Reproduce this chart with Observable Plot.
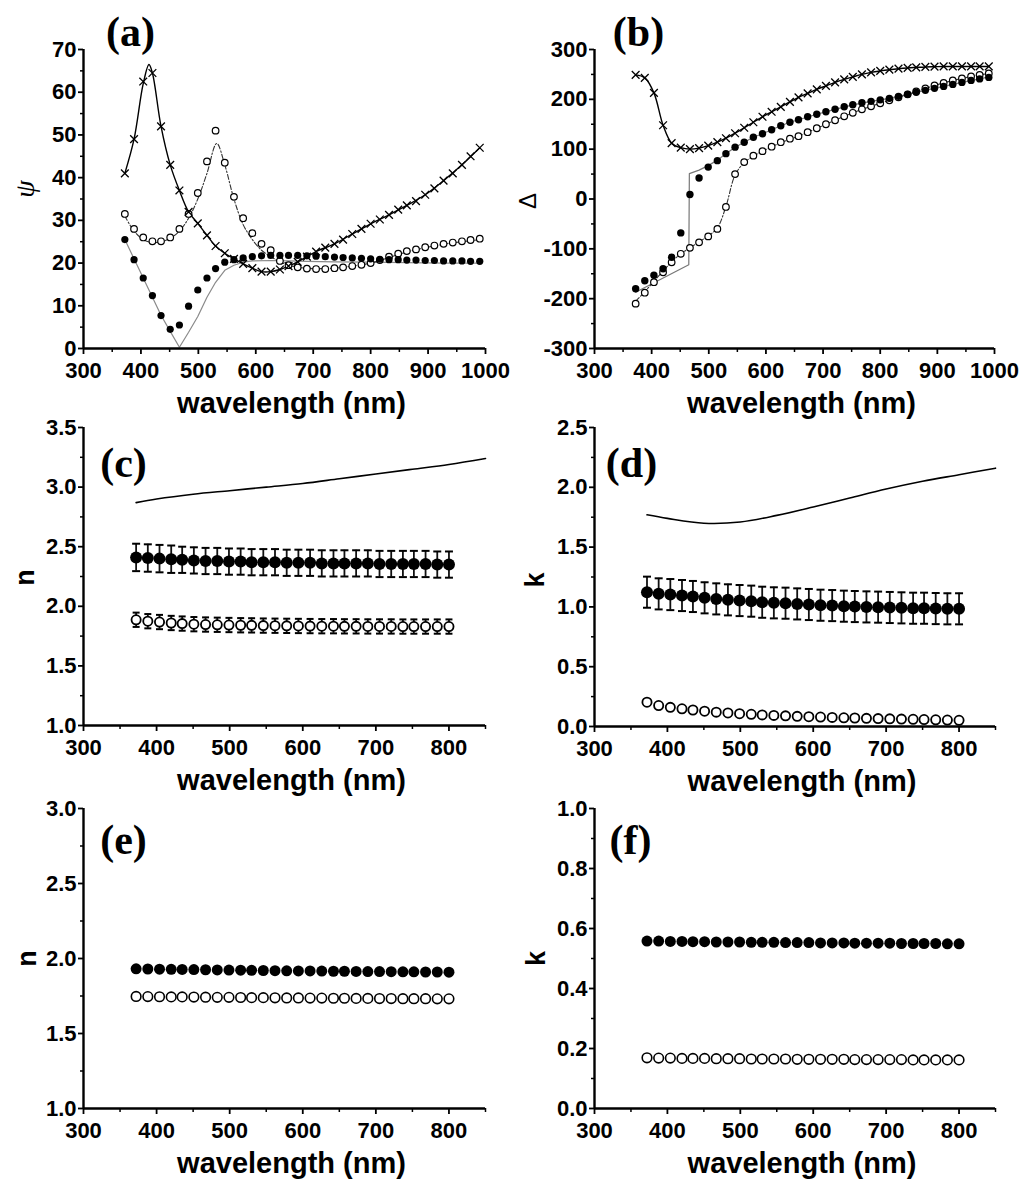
<!DOCTYPE html>
<html><head><meta charset="utf-8">
<script src="https://cdn.jsdelivr.net/npm/d3@7"></script>
<script src="https://cdn.jsdelivr.net/npm/@observablehq/plot@0.6"></script>
<style>
body{margin:0;background:#fff}
#fig{position:relative;width:1028px;height:1186px;background:#fff;overflow:hidden}
</style></head><body><div id="fig"></div>
<script>
// ---------- DATA ----------
// measurement wavelengths (nm)
const wl = [372, 388, 404, 420, 435, 451, 467, 483, 499, 515, 530, 546, 562, 578, 594, 610, 626, 642, 657, 673, 689, 705, 721, 737, 752, 768, 784, 800, 816, 832, 848, 863, 879, 895, 911, 927, 943, 959, 974, 990];

// (a) psi
const psiCross = [41, 49, 62.5, 64.5, 52, 43, 37, 32, 29.3, 26.5, 24, 22.3, 21, 19.8, 18.8, 18, 18, 18.5, 19.3, 20.3, 21.5, 22.7, 23.6, 24.5, 25.5, 26.8, 28, 29.2, 30.2, 31.3, 32.5, 33.5, 34.5, 36, 37.5, 39.3, 41, 43, 45, 47];
const psiOpen = [31.5, 28, 26, 25.1, 25.1, 26, 28, 31.5, 36.4, 43.8, 51, 43.5, 35.5, 30.5, 27, 24.5, 23, 20.5, 19.5, 19, 18.7, 18.6, 18.6, 18.8, 19, 19.3, 19.6, 20, 20.7, 21.5, 22.2, 22.8, 23.2, 23.7, 24.1, 24.5, 24.8, 25.1, 25.4, 25.7];
const psiFilled = [25.5, 20.8, 16.5, 12.4, 7.7, 4.5, 5.5, 9.9, 13.7, 16.5, 18.7, 20.2, 20.8, 21.2, 21.5, 21.7, 21.8, 21.8, 21.8, 21.8, 21.7, 21.6, 21.5, 21.4, 21.3, 21.2, 21.1, 21, 20.9, 20.8, 20.8, 20.7, 20.7, 20.6, 20.6, 20.5, 20.5, 20.5, 20.4, 20.4];
// (a) fitted curves
const fitAcrossWl = [372, 388, 404, 414, 420, 435, 451, 467, 483, 499, 515, 530, 546, 562, 578, 594, 610, 626, 642, 657, 673, 689, 705, 737, 768, 800, 832, 863, 895, 927, 959, 990];
const fitAcross = [41, 49, 62, 66.5, 64.5, 52, 43, 37, 32, 29.3, 26.5, 24, 22.3, 21, 19.8, 18.8, 18, 18, 18.5, 19.3, 20.3, 21.5, 22.7, 24.5, 26.8, 29.2, 31.3, 33.5, 36, 39.3, 43, 47];
const fitAopenWl = [372, 388, 404, 420, 435, 451, 467, 483, 499, 515, 532, 546, 562, 578, 594, 610, 626, 642, 657, 673, 689, 705, 737, 768, 800, 832, 863, 895, 927, 959, 990];
const fitAopen = [31, 27.5, 25.5, 24.8, 25, 25.8, 27.5, 30.5, 35, 41, 48, 43, 35, 29, 25.5, 23, 21.5, 20.3, 19.5, 19, 18.8, 18.7, 18.8, 19.3, 20, 21.3, 22.6, 23.6, 24.4, 25, 25.5];
const fitAfilledWl = [372, 388, 404, 420, 435, 451, 467, 483, 499, 515, 530, 546, 562, 578, 594, 626, 657, 689, 737, 800, 863, 927, 990];
const fitAfilled = [25.5, 21, 16.5, 12, 7.8, 4, 0.3, 3.8, 7.5, 12, 15.5, 18.3, 19.5, 20.2, 20.5, 20.6, 20.5, 20.4, 20.3, 20.2, 20.1, 20, 20];

// (b) Delta
const deltaCross = [249, 243, 213, 148, 112, 103, 100, 102, 107, 114, 122, 132, 143, 154, 165, 175, 185, 195, 204, 212, 220, 227, 234, 240, 245, 250, 254, 257, 259.5, 261.5, 263, 264, 265, 265.5, 266, 266, 266, 266, 266, 266];
const deltaFilled = [-180, -164, -153, -140, -117, -68, 9, 42, 64, 77, 91, 104, 114, 124, 131, 139, 147, 154, 159, 165, 170, 175, 180, 185, 189, 193, 196, 199, 202, 206, 210, 214, 218, 222, 226, 230, 234, 238, 241, 244];
const deltaOpen = [-210, -188, -167, -147, -127, -110, -98, -87, -75, -60, -16, 50, 74, 87, 96, 105, 114, 121, 126, 134, 142, 150, 158, 166, 173, 180, 186, 192, 198, 204, 210, 216, 222, 228, 233, 238, 242, 246, 249, 252];
// (b) fitted curves
const fitBfilledWl = [372, 465, 466, 483, 499, 515, 530, 546, 562, 578, 594, 610, 626, 642, 657, 689, 721, 752, 784, 816, 848, 879, 911, 943, 974, 990];
const fitBfilled = [-187, -132, 51, 58, 67, 78, 91, 104, 114, 124, 131, 139, 147, 154, 159, 170, 180, 189, 196, 202, 210, 218, 226, 234, 241, 245];
const fitBopenWl = [372, 388, 404, 420, 435, 451, 467, 483, 499, 515, 530, 546, 562, 578, 594, 626, 657, 689, 721, 752, 784, 816, 848, 879, 911, 943, 974, 990];
const fitBopen = [-205, -186, -165, -145, -126, -110, -98, -86, -74, -58, -15, 48, 73, 86, 96, 113, 126, 142, 158, 173, 186, 198, 210, 222, 233, 242, 249, 252];

// (c) n with error bars, (d) k with error bars (first 28 wavelengths)
const cFilled = [2.41, 2.405, 2.40, 2.395, 2.39, 2.385, 2.38, 2.38, 2.375, 2.375, 2.37, 2.37, 2.37, 2.365, 2.365, 2.365, 2.36, 2.36, 2.36, 2.36, 2.36, 2.355, 2.355, 2.355, 2.355, 2.355, 2.35, 2.35];
const cFilledErr = [0.115, 0.115, 0.115, 0.115, 0.11, 0.11, 0.11, 0.11, 0.11, 0.11, 0.11, 0.11, 0.11, 0.11, 0.11, 0.11, 0.11, 0.11, 0.11, 0.11, 0.11, 0.11, 0.11, 0.11, 0.11, 0.11, 0.11, 0.11];
const cOpen = [1.887, 1.875, 1.868, 1.86, 1.855, 1.85, 1.847, 1.845, 1.843, 1.841, 1.84, 1.838, 1.837, 1.836, 1.835, 1.834, 1.833, 1.833, 1.832, 1.832, 1.831, 1.831, 1.831, 1.83, 1.83, 1.83, 1.83, 1.83];
const cOpenErr = [0.06, 0.06, 0.06, 0.06, 0.06, 0.06, 0.06, 0.06, 0.06, 0.06, 0.06, 0.06, 0.06, 0.06, 0.06, 0.06, 0.06, 0.06, 0.06, 0.06, 0.06, 0.06, 0.06, 0.06, 0.06, 0.06, 0.06, 0.06];
const lineCWl = [372, 400, 450, 500, 550, 600, 650, 700, 750, 800, 850];
const lineC = [2.87, 2.90, 2.94, 2.97, 3.00, 3.03, 3.07, 3.11, 3.15, 3.19, 3.24];

const dFilled = [1.123, 1.109, 1.103, 1.095, 1.087, 1.076, 1.067, 1.059, 1.053, 1.048, 1.039, 1.034, 1.031, 1.025, 1.02, 1.014, 1.011, 1.006, 1.003, 1.0, 0.998, 0.995, 0.992, 0.989, 0.989, 0.986, 0.984, 0.984];
const dFilledErr = [0.13, 0.13, 0.13, 0.13, 0.13, 0.13, 0.13, 0.13, 0.13, 0.13, 0.13, 0.13, 0.13, 0.13, 0.13, 0.13, 0.13, 0.13, 0.13, 0.13, 0.13, 0.13, 0.13, 0.13, 0.13, 0.13, 0.13, 0.13];
const dOpen = [0.203, 0.175, 0.16, 0.148, 0.138, 0.128, 0.12, 0.113, 0.107, 0.102, 0.097, 0.093, 0.089, 0.085, 0.082, 0.079, 0.076, 0.073, 0.071, 0.068, 0.066, 0.064, 0.062, 0.06, 0.058, 0.056, 0.054, 0.052];
const lineDWl = [372, 400, 450, 500, 550, 600, 650, 700, 750, 800, 850];
const lineD = [1.77, 1.74, 1.70, 1.71, 1.765, 1.835, 1.91, 1.985, 2.05, 2.105, 2.16];

// (e) n, (f) k
const eFilled = [1.931, 1.93, 1.929, 1.928, 1.927, 1.926, 1.925, 1.924, 1.923, 1.922, 1.921, 1.92, 1.919, 1.918, 1.917, 1.917, 1.916, 1.915, 1.915, 1.914, 1.913, 1.913, 1.912, 1.911, 1.911, 1.91, 1.91, 1.909];
const eOpen = [1.747, 1.746, 1.745, 1.744, 1.744, 1.743, 1.742, 1.741, 1.741, 1.74, 1.739, 1.739, 1.738, 1.737, 1.737, 1.736, 1.736, 1.735, 1.735, 1.734, 1.734, 1.733, 1.733, 1.732, 1.732, 1.732, 1.731, 1.731];
const fFilled = [0.558, 0.558, 0.557, 0.557, 0.556, 0.556, 0.555, 0.555, 0.555, 0.554, 0.554, 0.554, 0.553, 0.553, 0.553, 0.552, 0.552, 0.552, 0.551, 0.551, 0.551, 0.551, 0.55, 0.55, 0.55, 0.55, 0.549, 0.549];
const fOpen = [0.169, 0.168, 0.168, 0.167, 0.167, 0.167, 0.166, 0.166, 0.166, 0.165, 0.165, 0.165, 0.165, 0.164, 0.164, 0.164, 0.164, 0.164, 0.163, 0.163, 0.163, 0.163, 0.163, 0.162, 0.162, 0.162, 0.162, 0.162];

// axis tick values
const xTicksA = [300, 400, 500, 600, 700, 800, 900, 1000];
const xMinorA = [350, 450, 550, 650, 750, 850, 950];
const xTicksC = [300, 400, 500, 600, 700, 800];
const xMinorC = [350, 450, 550, 650, 750, 850];
const yTicksA = [0, 10, 20, 30, 40, 50, 60, 70];
const yMinorA = [5, 15, 25, 35, 45, 55, 65];
const yTicksB = [-300, -200, -100, 0, 100, 200, 300];
const yMinorB = [-250, -150, -50, 50, 150, 250];
const yTicksC = [1.0, 1.5, 2.0, 2.5, 3.0, 3.5];
const yMinorC = [1.25, 1.75, 2.25, 2.75, 3.25];
const yTicksD = [0.0, 0.5, 1.0, 1.5, 2.0, 2.5];
const yMinorD = [0.25, 0.75, 1.25, 1.75, 2.25];
const yTicksE = [1.0, 1.5, 2.0, 2.5, 3.0];
const yMinorE = [1.25, 1.75, 2.25, 2.75];
const yTicksF = [0.0, 0.2, 0.4, 0.6, 0.8, 1.0];
const yMinorF = [0.1, 0.3, 0.5, 0.7, 0.9];

// ---------- HELPERS ----------
const SANS = "'Liberation Sans', Arial, Helvetica, sans-serif";
const SERIF = "'Liberation Serif', 'Times New Roman', serif";
const zip = (xs, ys, es) => ys.map((y, i) => ({x: xs[i], y, e: es ? es[i] : 0}));
const cap = {draw(ctx, size) { const w = Math.sqrt(size / Math.PI); ctx.moveTo(-w, 0); ctx.lineTo(w, 0); }};
const fig = document.getElementById("fig");

function panel(c) {
  const svg = Plot.plot({
    width: c.width, height: c.height,
    marginTop: c.m[0], marginRight: c.m[1], marginBottom: c.m[2], marginLeft: c.m[3],
    x: {domain: c.xDomain}, y: {domain: c.yDomain},
    style: {background: "transparent", overflow: "visible", fontFamily: SANS, fontWeight: "bold", fontSize: "22px", color: "black"},
    marks: [
      ...c.marks,
      Plot.axisX({ticks: c.xTicks, tickSize: 6, tickPadding: 8, strokeWidth: 1.8, tickFormat: d => String(d), label: null, fontSize: 22, fontWeight: "bold"}),
      Plot.axisX({ticks: c.xMinor, tickSize: 4, strokeWidth: 1.5, fill: "none", label: null}),
      Plot.axisY({ticks: c.yTicks, tickSize: 5, tickPadding: 2, strokeWidth: 1.8, tickFormat: c.yFormat, label: null, fontSize: 22, fontWeight: "bold"}),
      Plot.axisY({ticks: c.yMinor, tickSize: 3, strokeWidth: 1.5, fill: "none", label: null}),
      Plot.ruleX([c.xDomain[0]], {strokeWidth: 2.4}),
      Plot.ruleY([c.yDomain[0]], {strokeWidth: 2.4}),
      Plot.text(["wavelength (nm)"], {text: d => d, frameAnchor: "bottom", dx: 7, dy: 55, fontSize: 29, fontWeight: "bold", fontFamily: SANS, textAnchor: "middle", lineAnchor: "middle"}),
      Plot.text([c.ylab], {text: d => d, frameAnchor: "left", dx: c.ylabPos[0], dy: c.ylabPos[1], rotate: -90, textAnchor: "middle", lineAnchor: "middle", ...c.ylabStyle}),
      Plot.text([c.tag], {text: d => d, frameAnchor: "top-left", dx: c.tagPos[0], dy: c.tagPos[1], fontFamily: SERIF, fontWeight: "bold", fontSize: 42, textAnchor: "middle", lineAnchor: "middle"})
    ]
  });
  svg.style.position = "absolute";
  svg.style.left = c.left + "px";
  svg.style.top = c.top + "px";
  fig.appendChild(svg);
}

const f1 = d3.format(".1f");
const nLab = {fontFamily: SANS, fontWeight: "bold", fontSize: 27};

function errMarks(data, r) {
  return [
    Plot.ruleX(data, {x: "x", y1: d => d.y - d.e, y2: d => d.y + d.e, strokeWidth: 1.8, stroke: "#111"}),
    Plot.dot(data, {x: "x", y: d => d.y + d.e, symbol: cap, r, stroke: "black", strokeWidth: 2, fill: "none"}),
    Plot.dot(data, {x: "x", y: d => d.y - d.e, symbol: cap, r, stroke: "black", strokeWidth: 2, fill: "none"})
  ];
}

// (a)
panel({
  left: 0, top: 0, width: 514, height: 400, m: [49, 29, 52, 83],
  xDomain: [300, 1000], yDomain: [0, 70], xTicks: xTicksA, xMinor: xMinorA, yTicks: yTicksA, yMinor: yMinorA,
  yFormat: d => String(d), ylab: "ψ", ylabPos: [-58, -10], ylabStyle: {fontFamily: SERIF, fontStyle: "italic", fontSize: 28, fontWeight: "normal"},
  tag: "(a)", tagPos: [47, -17],
  marks: [
    Plot.line(zip(fitAfilledWl, fitAfilled), {x: "x", y: "y", stroke: "#8a8a8a", strokeWidth: 1.2}),
    Plot.line(zip(fitAopenWl, fitAopen), {x: "x", y: "y", stroke: "#333", strokeWidth: 1.1, strokeDasharray: "5,2,1.5,2", curve: "catmull-rom"}),
    Plot.line(zip(fitAcrossWl, fitAcross), {x: "x", y: "y", stroke: "black", strokeWidth: 1.4, curve: "catmull-rom"}),
    Plot.dot(zip(wl, psiOpen), {x: "x", y: "y", r: 3.3, stroke: "black", fill: "white", strokeWidth: 1.2}),
    Plot.dot(zip(wl, psiFilled), {x: "x", y: "y", r: 3.6, fill: "black"}),
    Plot.dot(zip(wl, psiCross), {x: "x", y: "y", symbol: "times", r: 3.6, stroke: "black", strokeWidth: 1.3})
  ]
});

// (b)
panel({
  left: 508, top: 0, width: 520, height: 400, m: [49, 34, 52, 86],
  xDomain: [300, 1000], yDomain: [-300, 300], xTicks: xTicksA, xMinor: xMinorA, yTicks: yTicksB, yMinor: yMinorB,
  yFormat: d => String(d), ylab: "Δ", ylabPos: [-66, 2], ylabStyle: {fontFamily: SANS, fontSize: 24, fontWeight: "normal"},
  tag: "(b)", tagPos: [44, -17],
  marks: [
    Plot.line(zip(fitBfilledWl, fitBfilled), {x: "x", y: "y", stroke: "#777", strokeWidth: 1.2}),
    Plot.line(zip(fitBopenWl, fitBopen), {x: "x", y: "y", stroke: "#333", strokeWidth: 1.1, strokeDasharray: "5,2,1.5,2", curve: "catmull-rom"}),
    Plot.line(zip(wl, deltaCross), {x: "x", y: "y", stroke: "black", strokeWidth: 1.4, curve: "catmull-rom"}),
    Plot.dot(zip(wl, deltaOpen), {x: "x", y: "y", r: 3.3, stroke: "black", fill: "white", strokeWidth: 1.2}),
    Plot.dot(zip(wl, deltaFilled), {x: "x", y: "y", r: 3.7, fill: "black"}),
    Plot.dot(zip(wl, deltaCross), {x: "x", y: "y", symbol: "times", r: 3.6, stroke: "black", strokeWidth: 1.3})
  ]
});

// (c)
const cF = zip(wl, cFilled, cFilledErr), cO = zip(wl, cOpen, cOpenErr);
panel({
  left: 0, top: 400, width: 514, height: 390, m: [27, 29, 65, 83],
  xDomain: [300, 850], yDomain: [1.0, 3.5], xTicks: xTicksC, xMinor: xMinorC, yTicks: yTicksC, yMinor: yMinorC,
  yFormat: f1, ylab: "n", ylabPos: [-58, 1], ylabStyle: nLab,
  tag: "(c)", tagPos: [40, 36],
  marks: [
    Plot.line(zip(lineCWl, lineC), {x: "x", y: "y", stroke: "black", strokeWidth: 1.6, curve: "catmull-rom"}),
    ...errMarks(cF, 4),
    Plot.dot(cF, {x: "x", y: "y", r: 6, fill: "black"}),
    ...errMarks(cO, 3.5),
    Plot.dot(cO, {x: "x", y: "y", r: 4.6, fill: "white", stroke: "black", strokeWidth: 1.8})
  ]
});

// (d)
const dF = zip(wl, dFilled, dFilledErr);
panel({
  left: 508, top: 400, width: 520, height: 390, m: [27, 33, 64, 86],
  xDomain: [300, 850], yDomain: [0, 2.5], xTicks: xTicksC, xMinor: xMinorC, yTicks: yTicksD, yMinor: yMinorD,
  yFormat: f1, ylab: "k", ylabPos: [-59, 3], ylabStyle: nLab,
  tag: "(d)", tagPos: [37, 36],
  marks: [
    Plot.line(zip(lineDWl, lineD), {x: "x", y: "y", stroke: "black", strokeWidth: 1.6, curve: "catmull-rom"}),
    ...errMarks(dF, 4),
    Plot.dot(dF, {x: "x", y: "y", r: 6, fill: "black"}),
    Plot.dot(zip(wl, dOpen), {x: "x", y: "y", r: 4.6, fill: "white", stroke: "black", strokeWidth: 1.8})
  ]
});

// (e)
panel({
  left: 0, top: 790, width: 514, height: 396, m: [18, 29, 78, 83],
  xDomain: [300, 850], yDomain: [1.0, 3.0], xTicks: xTicksC, xMinor: xMinorC, yTicks: yTicksE, yMinor: yMinorE,
  yFormat: f1, ylab: "n", ylabPos: [-56, 0], ylabStyle: nLab,
  tag: "(e)", tagPos: [40, 32],
  marks: [
    Plot.dot(zip(wl, eOpen), {x: "x", y: "y", r: 4.8, fill: "white", stroke: "black", strokeWidth: 1.6}),
    Plot.dot(zip(wl, eFilled), {x: "x", y: "y", r: 5.5, fill: "black"})
  ]
});

// (f)
panel({
  left: 508, top: 790, width: 520, height: 396, m: [18, 33, 78, 86],
  xDomain: [300, 850], yDomain: [0, 1.0], xTicks: xTicksC, xMinor: xMinorC, yTicks: yTicksF, yMinor: yMinorF,
  yFormat: f1, ylab: "k", ylabPos: [-58, 0], ylabStyle: nLab,
  tag: "(f)", tagPos: [36, 32],
  marks: [
    Plot.dot(zip(wl, fOpen), {x: "x", y: "y", r: 4.8, fill: "white", stroke: "black", strokeWidth: 1.6}),
    Plot.dot(zip(wl, fFilled), {x: "x", y: "y", r: 5.5, fill: "black"})
  ]
});
</script>
</body></html>
